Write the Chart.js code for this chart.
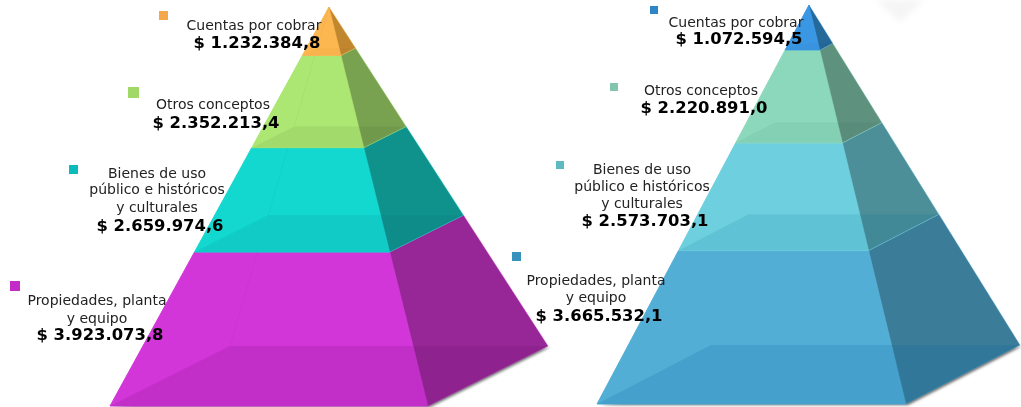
<!DOCTYPE html>
<html lang="es">
<head>
  <meta charset="UTF-8">
  <title>Pirámides</title>
  <style>
    body { margin: 0; background: #fff; }
    #chart { display: block; }
  </style>
</head>
<body>
  <canvas id="chart" width="1021" height="407"></canvas>

  <script src="https://cdn.jsdelivr.net/npm/chart.js@4/dist/chart.umd.min.js"></script>
  <script>
    // bottom section first, same order as the stack
    const categories = [
      ['Propiedades, planta', 'y equipo'],
      ['Bienes de uso', 'público e históricos', 'y culturales'],
      ['Otros conceptos'],
      ['Cuentas por cobrar']
    ];
    const valuesLeft = [3923073.8, 2659974.6, 2352213.4, 1232384.8];
    const valuesRight = [3665532.1, 2573703.1, 2220891.0, 1072594.5];

    const frontLeft = ['#d236d8', '#12d8cf', '#abe772', '#fdb750'];
    const sideLeft = ['#972796', '#0f928c', '#78a250', '#c0872f'];
    const floorLeft = ['rgba(85,0,91,0.12)', 'rgba(0,90,130,0.1)', 'rgba(0,0,0,0.05)', 'rgba(120,60,0,0.03)'];
    const keyLeft = ['#c32bc9', '#0cbbbb', '#a0d968', '#f4a84e'];
    const frontRight = ['#53aed6', '#6ed0de', '#8cd8bc', '#3a97e3'];
    const sideRight = ['#3b7c99', '#4c8f99', '#5f917f', '#25689a'];
    const floorRight = ['rgba(8,100,160,0.18)', 'rgba(0,100,150,0.12)', 'rgba(0,60,60,0.05)', 'rgba(0,0,0,0.02)'];
    const keyRight = ['#3893bc', '#5dbac3', '#82c4ae', '#2e86c9'];

    // pixel layout of the two pyramids and their labels
    const H = 407;
    const frameLeft = { id: 'yL', apexX: 329, apexY: 7, baseY: 406, x0: 110, x1: 428, depthX: 120, depthY: 60, rear: 0.03 };
    const frameRight = { id: 'yR', apexX: 809, apexY: 5, baseY: 404, x0: 597, x1: 906, depthX: 114, depthY: 59, rear: 0 };

    const labelsLeft = [
      { key: [10, 281, 10], x: 97, vx: 100, ys: [301, 319], vy: 336 },
      { key: [69, 165, 9], x: 157, vx: 160, ys: [174, 190, 208], vy: 227 },
      { key: [128, 87, 11], x: 213, vx: 216, ys: [105], vy: 124 },
      { key: [159, 11, 9], x: 254, vx: 257, ys: [26], vy: 44 }
    ];
    const labelsRight = [
      { key: [512, 252, 9], x: 596, vx: 599, ys: [281, 298], vy: 317 },
      { key: [556, 161, 8], x: 642, vx: 645, ys: [170, 187, 204], vy: 222 },
      { key: [610, 83, 8], x: 701, vx: 704, ys: [91], vy: 109 },
      { key: [650, 6, 8], x: 736, vx: 739, ys: [23], vy: 40 }
    ];

    const sum = arr => arr.reduce((a, b) => a + b, 0);

    const money = v => {
      const [whole, dec] = v.toFixed(1).split('.');
      return '$ ' + whole.replace(/\B(?=(\d{3})+$)/g, '.') + ',' + dec;
    };

    // corner of the pyramid at fraction t of the height, px0 is the base corner x,
    // back = 1 for the rear corners
    function corner(frame, total, px0, back, t) {
      const bx = px0 + frame.depthX * back;
      const lift = frame.depthY / (frame.baseY - frame.apexY);
      return {
        x: bx + (frame.apexX - bx) * t,
        y: (t + lift * back * (1 - t)) * total
      };
    }

    function yScale(frame, total) {
      const perPx = total / (frame.baseY - frame.apexY);
      const min = -(H - frame.baseY) * perPx;
      return { type: 'linear', display: false, min: min, max: min + H * perPx };
    }

    function buildFaces(frame, values, front, side, floor) {
      const total = sum(values);
      const out = [];
      const add = (pts, fill, border, width) => out.push({
        data: fill ? pts.concat(pts[0]) : pts,
        xAxisID: 'x',
        yAxisID: frame.id,
        showLine: true,
        tension: 0,
        pointRadius: 0,
        fill: fill ? 'shape' : false,
        backgroundColor: fill || 'transparent',
        borderColor: border,
        borderWidth: width,
        clip: false
      });

      let done = 0;
      values.forEach((v, i) => {
        const t0 = done / total;
        const t1 = (done + v) / total;
        done += v;
        const c = (px, back, t) => corner(frame, total, px, back, t);

        add([c(frame.x0, 0, t0), c(frame.x1, 0, t0), c(frame.x1, 0, t1), c(frame.x0, 0, t1)], front[i], front[i], 1);
        add([c(frame.x1, 0, t0), c(frame.x1, 1, t0), c(frame.x1, 1, t1), c(frame.x1, 0, t1)], side[i], front[i] + '66', 1);
        // floor of the section seen through the glass
        add([c(frame.x0, 0, t0), c(frame.x1, 0, t0), c(frame.x1, 1, t0), c(frame.x0, 1, t0)], floor[i], 'rgba(0,0,0,0)', 0);
        // rear left edge
        if (frame.rear) {
          add([c(frame.x0, 1, t0), c(frame.x0, 1, t1)], null, 'rgba(0,0,0,' + frame.rear + ')', 1);
        }
      });
      return out;
    }

    const datasets = buildFaces(frameLeft, valuesLeft, frontLeft, sideLeft, floorLeft)
      .concat(buildFaces(frameRight, valuesRight, frontRight, sideRight, floorRight));
    // chart.js paints the lowest order last
    datasets.forEach((d, i) => { d.order = -i; });

    const shadowPlugin = {
      id: 'shadow',
      beforeDatasetsDraw(chart) {
        const { ctx, scales } = chart;
        [[frameLeft, valuesLeft], [frameRight, valuesRight]].forEach(([frame, values]) => {
          const total = sum(values);
          const pts = [corner(frame, total, frame.x0, 0, 0), corner(frame, total, frame.x1, 0, 0), corner(frame, total, frame.x1, 1, 0)];
          ctx.save();
          ctx.shadowColor = 'rgba(0,0,0,0.6)';
          ctx.shadowBlur = 3;
          ctx.shadowOffsetX = 2;
          ctx.shadowOffsetY = 1;
          ctx.fillStyle = '#888';
          ctx.beginPath();
          pts.forEach((p, i) => {
            const px = scales.x.getPixelForValue(p.x);
            const py = scales[frame.id].getPixelForValue(p.y);
            i ? ctx.lineTo(px, py) : ctx.moveTo(px, py);
          });
          ctx.closePath();
          ctx.fill();
          ctx.restore();
        });
        // faint smudge at the top of the original picture
        ctx.save();
        ctx.filter = 'blur(3px)';
        ctx.fillStyle = '#f5f5f5';
        ctx.beginPath();
        ctx.moveTo(876, 0);
        ctx.lineTo(924, 0);
        ctx.lineTo(900, 22);
        ctx.closePath();
        ctx.fill();
        ctx.restore();
      }
    };

    const labelPlugin = {
      id: 'labels',
      afterDatasetsDraw(chart) {
        const ctx = chart.ctx;
        const drawSet = (labels, values, keys) => {
          labels.forEach((l, i) => {
            ctx.fillStyle = keys[i];
            ctx.fillRect(l.key[0], l.key[1], l.key[2], l.key[2]);

            ctx.textAlign = 'center';
            ctx.textBaseline = 'middle';
            ctx.fillStyle = '#222';
            ctx.font = '14px "DejaVu Sans"';
            categories[i].forEach((line, j) => ctx.fillText(line, l.x, l.ys[j]));
            ctx.fillStyle = '#000';
            ctx.font = 'bold 16.4px "DejaVu Sans"';
            ctx.fillText(money(values[i]), l.vx, l.vy);
          });
        };
        ctx.save();
        drawSet(labelsLeft, valuesLeft, keyLeft);
        drawSet(labelsRight, valuesRight, keyRight);
        ctx.restore();
      }
    };

    new Chart(document.querySelector('#chart').getContext('2d'), {
      type: 'scatter',
      data: { datasets: datasets },
      options: {
        responsive: false,
        animation: false,
        events: [],
        layout: { padding: 0 },
        plugins: { legend: { display: false }, tooltip: { enabled: false } },
        scales: {
          x: { type: 'linear', display: false, min: 0, max: 1021 },
          yL: yScale(frameLeft, sum(valuesLeft)),
          yR: yScale(frameRight, sum(valuesRight))
        }
      },
      plugins: [shadowPlugin, labelPlugin]
    });
  </script>
</body>
</html>
